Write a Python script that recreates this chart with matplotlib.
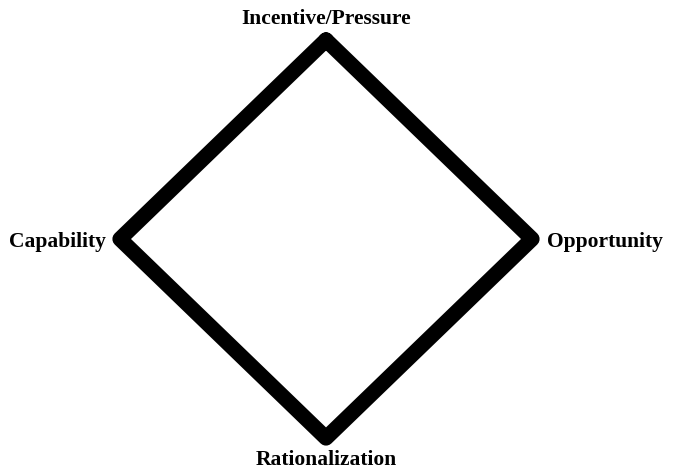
import matplotlib
matplotlib.use('Agg')
import matplotlib.pyplot as plt

# diamond corners: top, right, bottom, left
labels = ['Incentive/Pressure', 'Opportunity', 'Rationalization', 'Capability']
xs = [0, 1, 0, -1]
ys = [1, 0, -1, 0]

plt.rcParams['font.family'] = ['Liberation Serif', 'DejaVu Serif']

fig = plt.figure(figsize=(6.75, 4.69), dpi=100)
ax = fig.add_axes([120 / 675, 31 / 469, 412 / 675, 398 / 469])
ax.set_xlim(-1, 1)
ax.set_ylim(-1, 1)
ax.axis('off')

ax.plot(xs + xs[:1], ys + ys[:1], color='black', lw=11,
        solid_joinstyle='round', solid_capstyle='round', clip_on=False)

offsets = [(0, 15), (11, -2.5), (0, -16), (-10, -2.5)]
aligns = [('center', 'center'), ('left', 'center'), ('center', 'center'), ('right', 'center')]
for lab, x, y, off, (ha, va) in zip(labels, xs, ys, offsets, aligns):
    ax.annotate(lab, (x, y), xytext=off, textcoords='offset points',
                ha=ha, va=va, fontsize=15.5, fontweight='bold', annotation_clip=False)

fig.savefig('out.png', dpi=100)
